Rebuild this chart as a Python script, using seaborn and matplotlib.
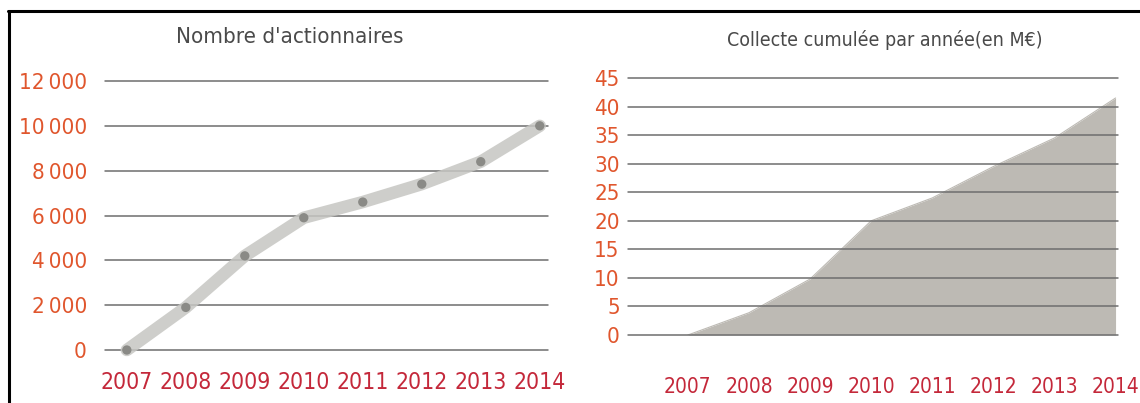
import matplotlib
matplotlib.use("Agg")
import matplotlib.pyplot as plt
from matplotlib import font_manager as fm
from matplotlib.lines import Line2D
import seaborn as sns
import numpy as np
import pandas as pd

years = ["2007", "2008", "2009", "2010", "2011", "2012", "2013", "2014"]
actionnaires = [0, 1900, 4200, 5900, 6600, 7400, 8400, 10000]
collecte = [0, 3.9, 9.8, 20.0, 24.0, 29.5, 34.5, 41.5]
left_ticks = [0, 2000, 4000, 6000, 8000, 10000, 12000]
left_ticklabels = ["0", "2\u2009000", "4\u2009000", "6\u2009000", "8\u2009000",
                   "10\u2009000", "12\u2009000"]
right_ticks = [0, 5, 10, 15, 20, 25, 30, 35, 40, 45]
title_left = "Nombre d'actionnaires"
title_right = "Collecte cumulée par année(en M€)"

sns.set_theme(style="white")

# find a condensed font if one is installed
chosen = None
entries = fm.fontManager.ttflist
for f in entries:
    st = str(f.stretch).lower()
    nm = f.name.lower()
    if f.weight in (400, "normal", "regular") and f.style == "normal" and (
            "condensed" in st or "narrow" in nm or "condensed" in nm
            or st in ("semi-condensed", "extra-condensed")):
        chosen = f
        break
if chosen is not None:
    plt.rcParams['font.family'] = [chosen.name, 'DejaVu Sans']
    plt.rcParams['font.stretch'] = chosen.stretch
    scale = 1.0
else:
    plt.rcParams['font.family'] = ['DejaVu Sans']
    scale = 0.8

ycol = "#e0562d"
xcol = "#c4283a"
gridcol = "#6e6e6e"
titlecol = "#4a4a4a"

W, H = 1140, 403
fig = plt.figure(figsize=(W / 100, H / 100), dpi=100)
fig.patch.set_facecolor("white")

def axpos(x0, x1, ytop, ybot):
    return [x0 / W, 1 - ybot / H, (x1 - x0) / W, (ybot - ytop) / H]

df = pd.DataFrame({"idx": np.arange(len(years)), "year": years,
                   "act": actionnaires, "col": collecte})

# Left chart
ax1 = fig.add_axes(axpos(105, 548, 81, 350))
for t in left_ticks:
    ax1.axhline(t, color=gridcol, lw=1.1, zorder=1, clip_on=False)
sns.lineplot(data=df, x="idx", y="act", ax=ax1, color="#c6c6c2", lw=9,
             alpha=0.85, solid_capstyle="round", zorder=2, clip_on=False)
sns.scatterplot(data=df, x="idx", y="act", ax=ax1, color="#8a8a86", s=45,
                edgecolor="none", zorder=3, clip_on=False)
ax1.set_xlim(-0.37, 7.14)
ax1.set_ylim(0, 12000)
ax1.set_yticks(left_ticks)
ax1.set_yticklabels(left_ticklabels)
ax1.set_xticks(df["idx"])
ax1.set_xticklabels(years)
ax1.tick_params(axis="y", colors=ycol, labelsize=16 * scale, length=0, pad=13)
ax1.tick_params(axis="x", colors=xcol, labelsize=16.5 * scale, length=0, pad=15)
ax1.set_xlabel("")
ax1.set_ylabel("")
for s in ax1.spines.values():
    s.set_visible(False)
ax1.patch.set_alpha(0)
fig.text(290 / W, 1 - 37 / H, title_left, ha="center", va="center",
         fontsize=16 * scale, color=titlecol)

# Right chart
ax2 = fig.add_axes(axpos(628, 1118, 78, 335))
ax2.fill_between(df["idx"], df["col"], 0, color="#bdbab4", lw=0, zorder=1)
sns.lineplot(data=df, x="idx", y="col", ax=ax2, color="#bdbab4", lw=0.8, zorder=1)
for t in right_ticks:
    ax2.axhline(t, color=gridcol, lw=1.1, zorder=2, clip_on=False)
ax2.set_xlim(-0.98, 7.04)
ax2.set_ylim(0, 45)
ax2.set_yticks(right_ticks)
ax2.set_xticks(df["idx"])
ax2.set_xticklabels(years)
ax2.tick_params(axis="y", colors=ycol, labelsize=16 * scale, length=0, pad=6)
ax2.tick_params(axis="x", colors=xcol, labelsize=15 * scale, length=0, pad=30)
ax2.set_xlabel("")
ax2.set_ylabel("")
for s in ax2.spines.values():
    s.set_visible(False)
ax2.patch.set_alpha(0)
fig.text(885 / W, 1 - 40 / H, title_right, ha="center", va="center",
         fontsize=14 * scale, color=titlecol)

# Frame lines (top and left)
fig.add_artist(Line2D([8 / W, 1], [1 - 11 / H, 1 - 11 / H], color="black", lw=2.2,
                      transform=fig.transFigure))
fig.add_artist(Line2D([9 / W, 9 / W], [0, 1 - 11 / H], color="black", lw=2.2,
                      transform=fig.transFigure))

fig.savefig("out.png", dpi=100, facecolor="white")
